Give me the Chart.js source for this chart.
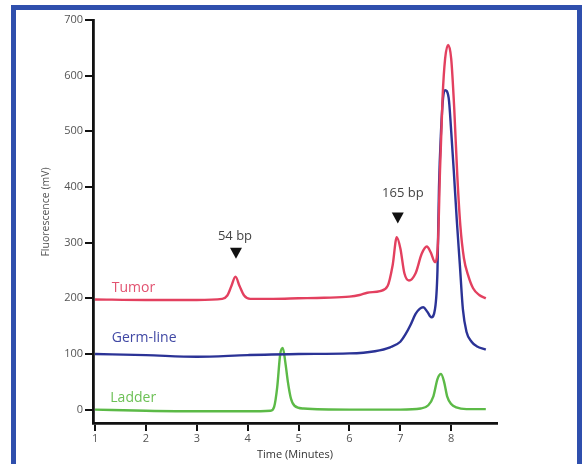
<!DOCTYPE html>
<html>
<head>
<meta charset="utf-8">
<script src="https://cdn.jsdelivr.net/npm/chart.js@4/dist/chart.umd.min.js"></script>
<style>
  html, body { margin: 0; padding: 0; background: #fff; }
  #wrap { position: relative; width: 582px; height: 464px; overflow: hidden; }
  #frame { position: absolute; left: 11px; top: 5px; width: 561px; height: 480px; border: 5px solid #2f4fad; }
  #chart { position: absolute; left: 0; top: 0; }
</style>
</head>
<body>
<div id="wrap">
  <div id="frame"></div>
  <canvas id="chart" width="582" height="464"></canvas>
</div>
<script>
// tick labels
const xTicks = [1, 2, 3, 4, 5, 6, 7, 8];
const yTicks = [0, 100, 200, 300, 400, 500, 600, 700];

// Tumor trace (time in minutes, fluorescence in mV)
const tumorTime = [1.0, 2.0, 3.0, 3.5, 3.6, 3.68, 3.76, 3.84, 3.93, 4.05, 4.5, 5.0, 5.5, 6.0, 6.2, 6.35, 6.6, 6.75, 6.85, 6.93, 7.0, 7.08, 7.17, 7.3, 7.42, 7.52, 7.6, 7.68, 7.74, 7.78, 7.83, 7.88, 7.94, 8.0, 8.06, 8.12, 8.18, 8.25, 8.33, 8.43, 8.55, 8.68];
const tumorSignal = [198, 197, 197, 199, 205, 222, 239, 222, 205, 199, 199, 200, 201, 203, 206, 210, 213, 222, 260, 310, 290, 245, 232, 245, 280, 293, 282, 265, 300, 430, 560, 630, 655, 630, 540, 420, 330, 272, 242, 218, 206, 200];

// Germ-line trace
const germTime = [1.0, 2.0, 3.0, 4.0, 5.0, 6.0, 6.5, 6.8, 7.0, 7.1, 7.2, 7.3, 7.38, 7.45, 7.53, 7.61, 7.68, 7.73, 7.76, 7.8, 7.84, 7.88, 7.95, 8.0, 8.05, 8.11, 8.17, 8.23, 8.3, 8.4, 8.5, 8.68];
const germSignal = [100, 98, 95, 98, 100, 101, 105, 112, 122, 135, 152, 172, 181, 184, 176, 166, 180, 250, 400, 500, 560, 574, 560, 500, 430, 340, 260, 180, 140, 122, 114, 108];

// Ladder trace
const ladderTime = [1.0, 2.0, 3.0, 4.0, 4.45, 4.52, 4.58, 4.64, 4.69, 4.74, 4.79, 4.85, 4.92, 5.1, 6.0, 7.0, 7.4, 7.55, 7.65, 7.73, 7.8, 7.86, 7.92, 8.0, 8.1, 8.3, 8.68];
const ladderSignal = [0, -2, -3, -3, -2, 5, 40, 100, 111, 85, 50, 20, 7, 2, 0, 0, 2, 8, 24, 55, 64, 50, 24, 10, 4, 1, 1];

// trace names and where they are written
const seriesNames = ["Tumor", "Germ-line", "Ladder"];
const nameX = [1.33, 1.33, 1.3];
const nameY = [219, 129, 21];

// fragment size markers
const markerText = ["54 bp", "165 bp"];
const markerX = [3.77, 6.95];
const markerY = [291, 354];
const markerTextX = [3.75, 7.05];
const markerTextY = [312, 388];

const colors = ["#e3405f", "#2b3396", "#5cba47"];
const nameColors = ["#e25270", "#4048a4", "#6cc055"];

function toPoints(xs, ys) {
  return xs.map((x, i) => ({ x: x, y: ys[i] }));
}

// draws the trace names, the arrows, the bp labels and the y title
const annotations = {
  id: "annotations",
  afterDatasetsDraw(chart) {
    const ctx = chart.ctx;
    const xs = chart.scales.x, ys = chart.scales.y;
    ctx.save();
    ctx.textBaseline = "middle";
    ctx.font = "14px 'Open Sans'";
    ctx.textAlign = "left";
    seriesNames.forEach((name, i) => {
      ctx.fillStyle = nameColors[i];
      ctx.fillText(name, xs.getPixelForValue(nameX[i]), ys.getPixelForValue(nameY[i]));
    });
    ctx.font = "13px 'Open Sans'";
    ctx.textAlign = "center";
    markerText.forEach((t, i) => {
      ctx.fillStyle = "#444";
      ctx.fillText(t, xs.getPixelForValue(markerTextX[i]), ys.getPixelForValue(markerTextY[i]));
      const px = xs.getPixelForValue(markerX[i]);
      const py = ys.getPixelForValue(markerY[i]);
      ctx.fillStyle = "#111";
      ctx.beginPath();
      ctx.moveTo(px - 6, py);
      ctx.lineTo(px + 6, py);
      ctx.lineTo(px, py + 11);
      ctx.closePath();
      ctx.fill();
    });
    // y axis title, sits a bit above the middle of the axis
    ctx.translate(46, 212);
    ctx.rotate(-Math.PI / 2);
    ctx.font = "10.5px 'Open Sans'";
    ctx.fillStyle = "#555";
    ctx.fillText("Fluorescence (mV)", 0, 0);
    ctx.restore();
  }
};

document.addEventListener("DOMContentLoaded", () => {
  const canvas = document.getElementById("chart");
  const traces = [
    toPoints(tumorTime, tumorSignal),
    toPoints(germTime, germSignal),
    toPoints(ladderTime, ladderSignal)
  ];

  new Chart(canvas, {
    type: "line",
    data: {
      datasets: traces.map((pts, i) => ({
        label: seriesNames[i],
        data: pts,
        borderColor: colors[i],
        borderWidth: 2.4,
        pointRadius: 0,
        fill: false,
        cubicInterpolationMode: "monotone"
      }))
    },
    options: {
      responsive: false,
      animation: false,
      layout: { padding: { left: 10, right: 85, top: 20, bottom: 0 } },
      plugins: { legend: { display: false }, tooltip: { enabled: false } },
      scales: {
        x: {
          type: "linear",
          min: 0.96,
          max: 8.9,
          afterBuildTicks: (scale) => { scale.ticks = xTicks.map(v => ({ value: v })); },
          afterFit: (scale) => { scale.height = 41; },
          border: { display: true, color: "#111", width: 2.8 },
          grid: { drawOnChartArea: false, drawTicks: true, tickLength: 8, color: "#111", lineWidth: 2 },
          ticks: { color: "#555", padding: 1, font: { family: "'Open Sans'", size: 11 } },
          title: { display: true, text: "Time (Minutes)", color: "#333", padding: { top: 0, bottom: 3 }, font: { family: "'Open Sans'", size: 11 } }
        },
        y: {
          type: "linear",
          min: -24,
          max: 700,
          afterBuildTicks: (scale) => { scale.ticks = yTicks.map(v => ({ value: v })); },
          afterFit: (scale) => { scale.width = 83; },
          border: { display: true, color: "#111", width: 2.8 },
          grid: { drawOnChartArea: false, drawTicks: true, tickLength: 8, color: "#111", lineWidth: 2 },
          ticks: { color: "#555", padding: 2, font: { family: "'Open Sans'", size: 11 } }
        }
      }
    },
    plugins: [annotations]
  });
});
</script>
</body>
</html>
